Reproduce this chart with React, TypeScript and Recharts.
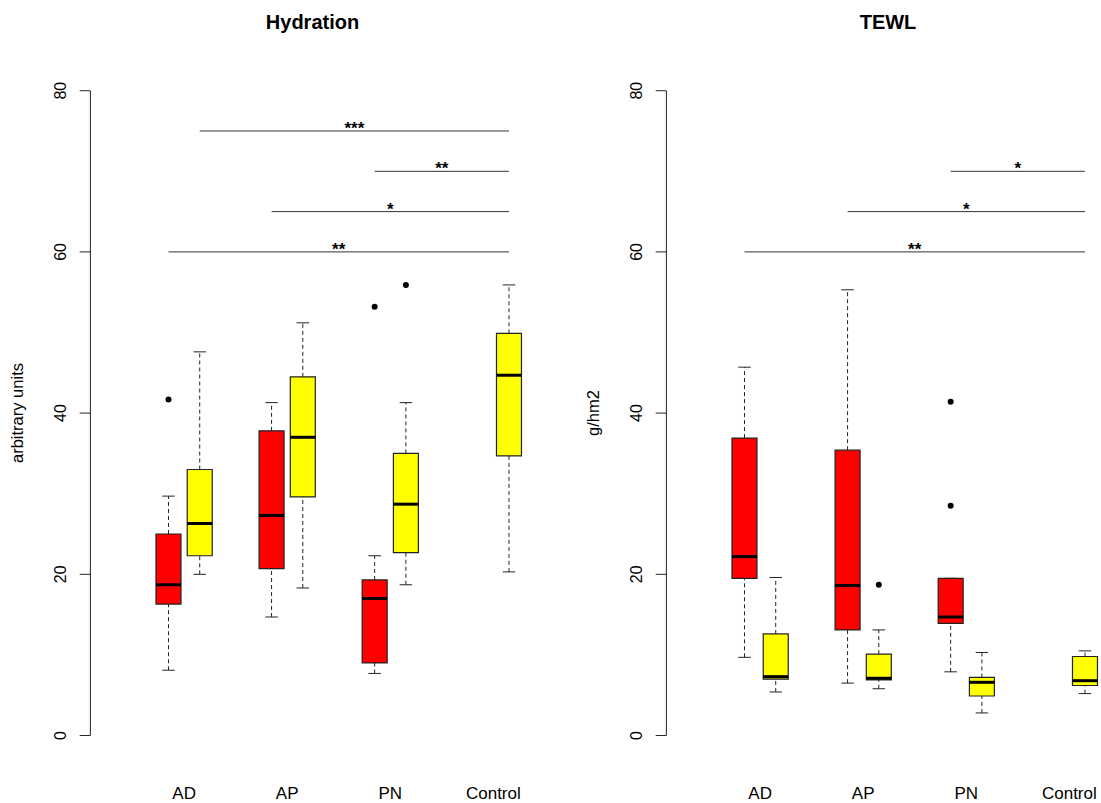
import React from "react";
import {
  ComposedChart,
  XAxis,
  YAxis,
  Scatter,
  ReferenceArea,
  ReferenceLine,
} from "recharts";

const CATEGORIES = ["AD", "AP", "PN", "Control"];
const RED_POS = [1, 4.3, 7.6, 10.9];
const YELLOW_POS = [2, 5.3, 8.6, 11.9];
const LABEL_POS = RED_POS.map((p, i) => (p + YELLOW_POS[i]) / 2);
const Y_TICKS = [0, 20, 40, 60, 80];

// [min, q1, median, q3, max] per group, null = no box
const HYD_RED = [
  [8.1, 16.3, 18.7, 25.0, 29.7],
  [14.7, 20.7, 27.3, 37.8, 41.3],
  [7.7, 9.0, 17.0, 19.3, 22.3],
  null,
];
const HYD_YELLOW = [
  [20.0, 22.3, 26.3, 33.0, 47.6],
  [18.3, 29.6, 37.0, 44.5, 51.2],
  [18.7, 22.7, 28.7, 35.0, 41.3],
  [20.3, 34.7, 44.7, 49.9, 55.9],
];
const HYD_OUT_RED = [[41.7], [], [53.2], []];
const HYD_OUT_YELLOW = [[], [], [55.9], []];
const HYD_SIG_FROM = [2, 7.6, 4.3, 1];
const HYD_SIG_LEVEL = [75, 70, 65, 60];
const HYD_SIG_STARS = ["***", "**", "*", "**"];

const TEWL_RED = [
  [9.7, 19.5, 22.2, 36.9, 45.7],
  [6.5, 13.1, 18.6, 35.4, 55.3],
  [7.9, 13.9, 14.7, 19.5, 19.5],
  null,
];
const TEWL_YELLOW = [
  [5.4, 7.0, 7.3, 12.6, 19.6],
  [5.8, 6.9, 7.1, 10.1, 13.1],
  [2.8, 4.9, 6.6, 7.2, 10.3],
  [5.2, 6.2, 6.8, 9.8, 10.5],
];
const TEWL_OUT_RED = [[], [], [41.4, 28.5], []];
const TEWL_OUT_YELLOW = [[], [18.7], [], []];
const TEWL_SIG_FROM = [7.6, 4.3, 1];
const TEWL_SIG_LEVEL = [70, 65, 60];
const TEWL_SIG_STARS = ["*", "*", "**"];

const FONT = "'Liberation Sans', Arial, Helvetica, sans-serif";
const INK = "#222";
const BOX_HALF = 0.4;
const CAP_HALF = 0.2;
const PANEL_W = 524.6;

function boxElements(stats: (number[] | null)[], pos: number[], color: string, key: string) {
  const out: React.ReactNode[] = [];
  stats.forEach((s, i) => {
    if (!s) return;
    const [mn, q1, med, q3, mx] = s;
    const x = pos[i];
    out.push(
      <ReferenceLine key={`${key}wu${i}`} segment={[{ x, y: q3 }, { x, y: mx }]} stroke={INK} strokeDasharray="4 3" />,
      <ReferenceLine key={`${key}wl${i}`} segment={[{ x, y: mn }, { x, y: q1 }]} stroke={INK} strokeDasharray="4 3" />,
      <ReferenceLine key={`${key}cu${i}`} segment={[{ x: x - CAP_HALF, y: mx }, { x: x + CAP_HALF, y: mx }]} stroke={INK} />,
      <ReferenceLine key={`${key}cl${i}`} segment={[{ x: x - CAP_HALF, y: mn }, { x: x + CAP_HALF, y: mn }]} stroke={INK} />,
      <ReferenceArea
        key={`${key}b${i}`}
        x1={x - BOX_HALF}
        x2={x + BOX_HALF}
        y1={q1}
        y2={q3}
        fill={color}
        fillOpacity={1}
        stroke={INK}
        strokeWidth={1.2}
      />,
      <ReferenceLine
        key={`${key}m${i}`}
        segment={[{ x: x - BOX_HALF, y: med }, { x: x + BOX_HALF, y: med }]}
        stroke="#000"
        strokeWidth={3}
      />
    );
  });
  return out;
}

const YTick = (props: any) => {
  const { x, y, payload } = props;
  return (
    <text
      x={x}
      y={y}
      transform={`rotate(-90 ${x} ${y})`}
      textAnchor="middle"
      fontSize={16}
      fontFamily={FONT}
      fill="#000"
    >
      {payload.value}
    </text>
  );
};

const XTick = (props: any) => {
  const { x, y, payload } = props;
  const idx = LABEL_POS.indexOf(payload.value);
  return (
    <text x={x} y={y} dy="0.71em" textAnchor="middle" fontSize={17} fontFamily={FONT} fill="#000">
      {CATEGORIES[idx]}
    </text>
  );
};

interface PanelProps {
  title: string;
  yLabel: string;
  red: (number[] | null)[];
  yellow: (number[] | null)[];
  outRed: number[][];
  outYellow: number[][];
  sigFrom: number[];
  sigLevel: number[];
  sigStars: string[];
  left: number;
}

function Panel({ title, yLabel, red, yellow, outRed, outYellow, sigFrom, sigLevel, sigStars, left }: PanelProps) {
  const control = YELLOW_POS[3];
  const outliers = [
    ...outRed.flatMap((vals, i) => vals.map((v) => ({ x: RED_POS[i], y: v }))),
    ...outYellow.flatMap((vals, i) => vals.map((v) => ({ x: YELLOW_POS[i], y: v }))),
  ];
  const stars = sigFrom.map((f, i) => ({ x: (f + control) / 2, y: sigLevel[i], label: sigStars[i] }));

  return (
    <div style={{ position: "absolute", left, top: 0, width: PANEL_W, height: 803 }}>
      <div
        style={{
          position: "absolute",
          left: 312.5,
          top: 22,
          transform: "translate(-50%, -50%)",
          fontFamily: FONT,
          fontWeight: "bold",
          fontSize: 20,
          lineHeight: 1,
          whiteSpace: "nowrap",
        }}
      >
        {title}
      </div>
      <div
        style={{
          position: "absolute",
          left: 17,
          top: 413,
          transform: "translate(-50%, -50%) rotate(-90deg)",
          fontFamily: FONT,
          fontSize: 16.5,
          lineHeight: 1,
          whiteSpace: "nowrap",
        }}
      >
        {yLabel}
      </div>
      <ComposedChart width={PANEL_W} height={803} margin={{ top: 90.7, right: 0, bottom: 0, left: 0 }}>
        <XAxis
          type="number"
          dataKey="x"
          domain={[-1.5, 12.4]}
          ticks={LABEL_POS}
          interval={0}
          axisLine={false}
          tickLine={false}
          tickSize={0}
          tickMargin={51}
          height={67.5}
          tick={<XTick />}
        />
        <YAxis
          type="number"
          dataKey="y"
          domain={[0, 80]}
          ticks={Y_TICKS}
          width={90.4}
          tickSize={10.7}
          tickMargin={13.3}
          axisLine={{ stroke: INK }}
          tickLine={{ stroke: INK }}
          tick={<YTick />}
        />
        {boxElements(red, RED_POS, "#ff0000", "r")}
        {boxElements(yellow, YELLOW_POS, "#ffff00", "y")}
        {sigFrom.map((f, i) => (
          <ReferenceLine
            key={`s${i}`}
            segment={[{ x: f, y: sigLevel[i] }, { x: control, y: sigLevel[i] }]}
            stroke="#333"
          />
        ))}
        <Scatter
          data={outliers}
          isAnimationActive={false}
          shape={(p: any) => <circle cx={p.cx} cy={p.cy} r={3} fill="#000" />}
        />
        <Scatter
          data={stars}
          isAnimationActive={false}
          shape={(p: any) => (
            <text
              x={p.cx}
              y={p.cy}
              dy={3}
              textAnchor="middle"
              fontSize={17}
              fontWeight="bold"
              fontFamily={FONT}
              fill="#000"
            >
              {p.payload.label}
            </text>
          )}
        />
      </ComposedChart>
    </div>
  );
}

export default function App() {
  return (
    <div
      style={{
        position: "absolute",
        left: 0,
        top: 0,
        width: 1101,
        height: 803,
        background: "#fff",
        overflow: "hidden",
      }}
    >
      <Panel
        title="Hydration"
        yLabel="arbitrary units"
        red={HYD_RED}
        yellow={HYD_YELLOW}
        outRed={HYD_OUT_RED}
        outYellow={HYD_OUT_YELLOW}
        sigFrom={HYD_SIG_FROM}
        sigLevel={HYD_SIG_LEVEL}
        sigStars={HYD_SIG_STARS}
        left={0}
      />
      <Panel
        title="TEWL"
        yLabel="g/hm2"
        red={TEWL_RED}
        yellow={TEWL_YELLOW}
        outRed={TEWL_OUT_RED}
        outYellow={TEWL_OUT_YELLOW}
        sigFrom={TEWL_SIG_FROM}
        sigLevel={TEWL_SIG_LEVEL}
        sigStars={TEWL_SIG_STARS}
        left={575.5}
      />
    </div>
  );
}
